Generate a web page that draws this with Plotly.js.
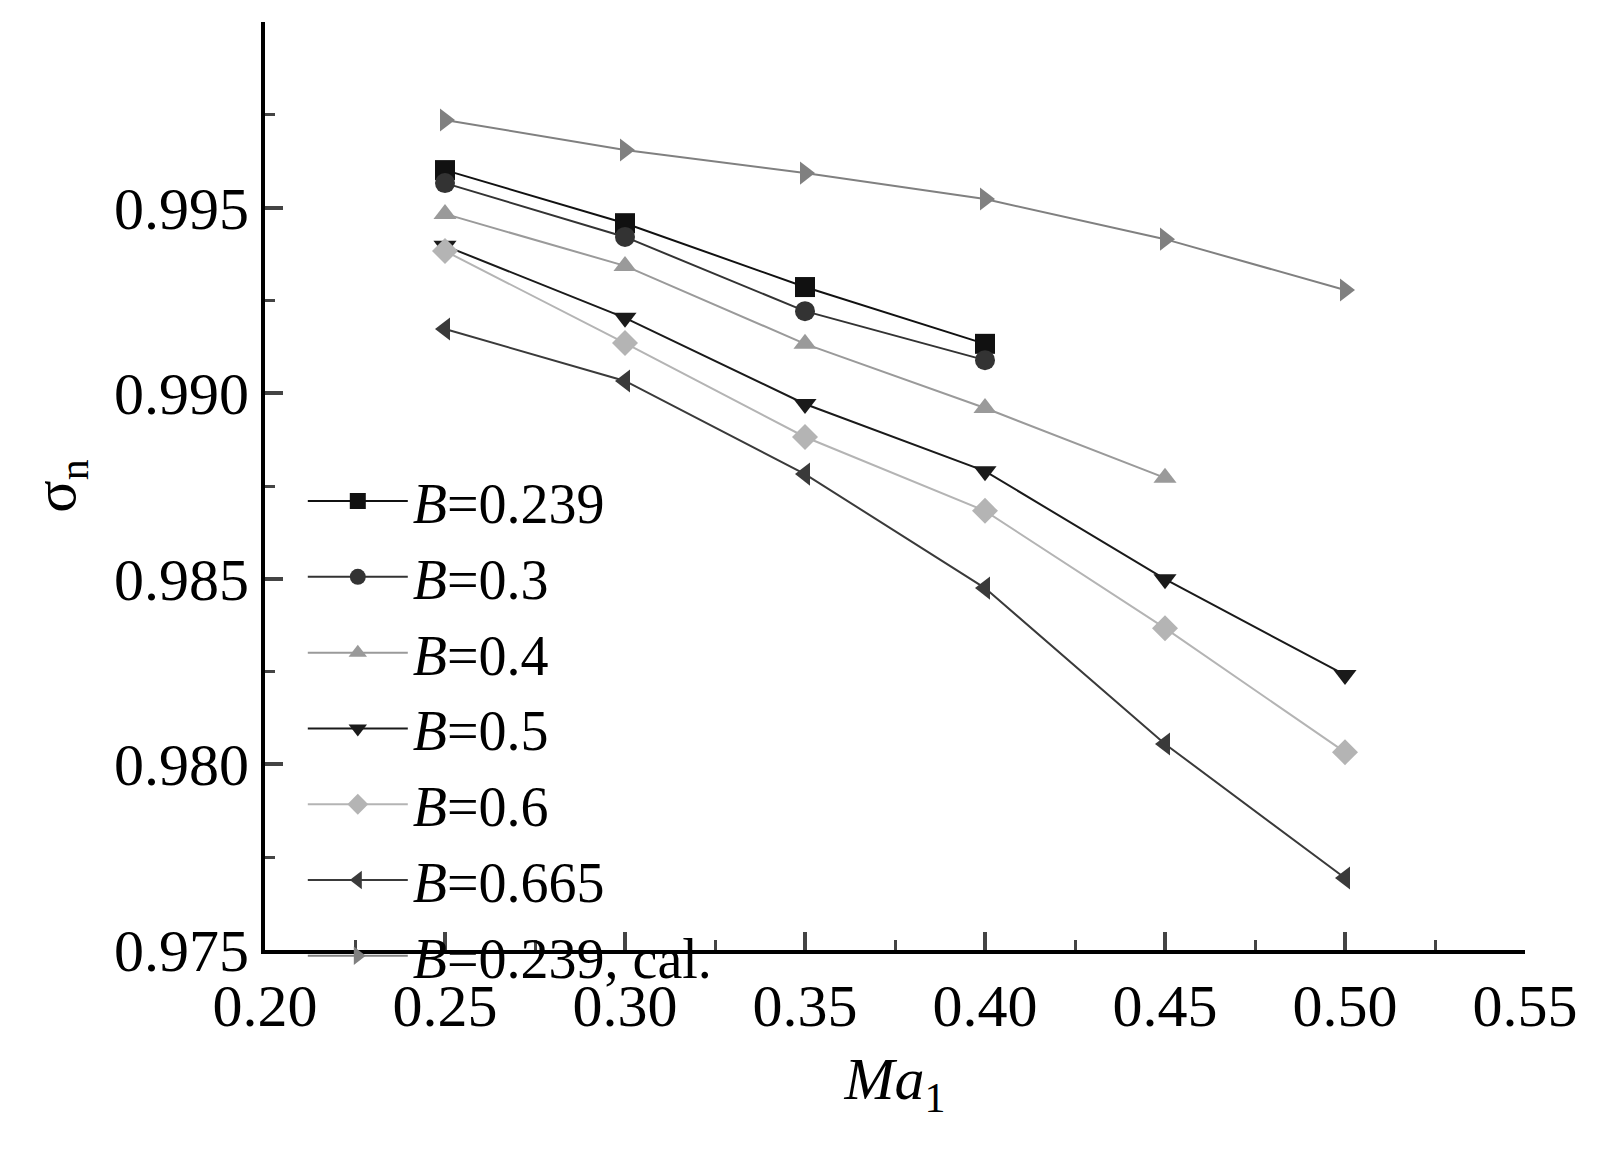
<!DOCTYPE html>
<html>
<head>
<meta charset="utf-8">
<script src="https://cdn.plot.ly/plotly-3.0.1.min.js"></script>
<style>body{margin:0;background:#fff}</style>
</head>
<body>
<div id="chart" style="width:1613px;height:1160px"></div>
<script>
// Data
const ma = [0.25, 0.30, 0.35, 0.40, 0.45, 0.50];
const b0239 = [0.99601, 0.99458, 0.99286, 0.99133];
const b03 = [0.99566, 0.99421, 0.99221, 0.99089];
const b04 = [0.99483, 0.99343, 0.99133, 0.98960, 0.98772];
const b05 = [0.99397, 0.99203, 0.98971, 0.98790, 0.98499, 0.98241];
const b06 = [0.99383, 0.99135, 0.98882, 0.98683, 0.98367, 0.98033];
const b0665 = [0.99173, 0.99033, 0.98782, 0.98475, 0.98055, 0.97694];
const bcal = [0.99736, 0.99655, 0.99593, 0.99523, 0.99415, 0.99278];
const yTicks = [0.975, 0.980, 0.985, 0.990, 0.995, 1.000];
const yTickText = ['0.975', '0.980', '0.985', '0.990', '0.995', '1.000'];

function series(name, y, color, symbol) {
  return {
    x: ma.slice(0, y.length), y: y, name: name, mode: 'lines+markers', type: 'scatter',
    line: {color: color, width: 2},
    marker: {color: color, symbol: symbol, size: 20}
  };
}

const data = [
  series('<i>B</i>=0.239', b0239, '#111111', 'square'),
  series('<i>B</i>=0.3', b03, '#333333', 'circle'),
  series('<i>B</i>=0.4', b04, '#9a9a9a', 'triangle-up'),
  series('<i>B</i>=0.5', b05, '#1a1a1a', 'triangle-down'),
  series('<i>B</i>=0.6', b06, '#b4b4b4', 'diamond'),
  series('<i>B</i>=0.665', b0665, '#3a3a3a', 'triangle-left'),
  series('<i>B</i>=0.239, cal.', bcal, '#808080', 'triangle-right')
];

const font = {family: 'Liberation Serif, Times New Roman, serif', size: 60, color: '#000'};

const layout = {
  width: 1613, height: 1160,
  margin: {l: 265, r: 88, t: 22, b: 210},
  paper_bgcolor: '#fff', plot_bgcolor: '#fff',
  font: font,
  showlegend: true,
  legend: {x: 0.03, y: 0.53, xanchor: 'left', yanchor: 'top', bgcolor: 'rgba(0,0,0,0)',
    font: {family: font.family, size: 56}, tracegroupgap: 0, itemwidth: 100},
  xaxis: {
    range: [0.2, 0.55], dtick: 0.05, tickformat: '.2f', automargin: false,
    showline: true, linewidth: 4, linecolor: '#000', mirror: false,
    ticks: 'inside', ticklen: 18, tickwidth: 4, showgrid: false, zeroline: false,
    minor: {dtick: 0.025, ticks: 'inside', ticklen: 10, tickwidth: 3, showgrid: false},
    title: {text: '<i>Ma</i><sub>1</sub>', font: font, standoff: 20}
  },
  yaxis: {
    range: [0.975, 1.0], tickvals: yTicks, ticktext: yTickText, automargin: false,
    showline: true, linewidth: 4, linecolor: '#000',
    ticks: 'inside', ticklen: 18, tickwidth: 4, showgrid: false, zeroline: false,
    minor: {dtick: 0.0025, ticks: 'inside', ticklen: 10, tickwidth: 3, showgrid: false},
    title: {text: 'σ<sub>n</sub>', font: font, standoff: 20}
  }
};

Plotly.newPlot('chart', data, layout, {displayModeBar: false});
</script>
</body>
</html>
